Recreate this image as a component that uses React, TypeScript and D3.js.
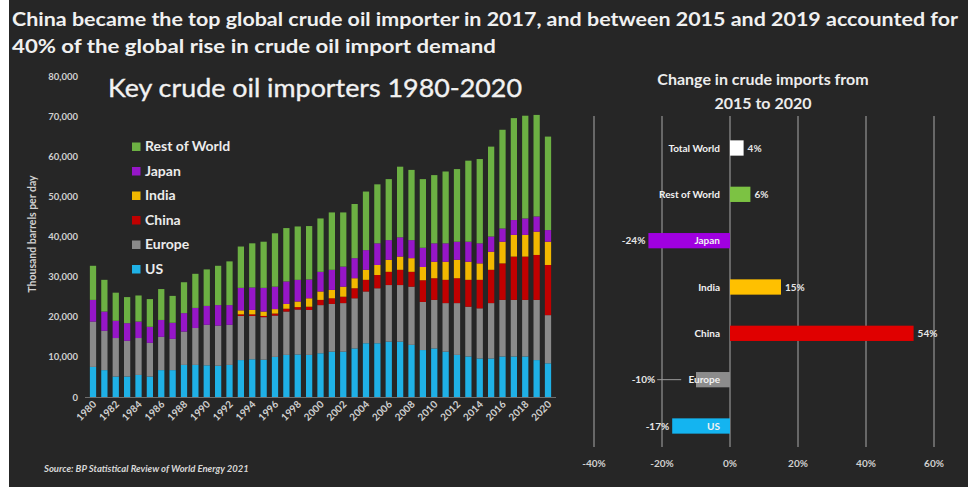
import React from 'react';
import * as d3 from 'd3';

const years = ["1980","1981","1982","1983","1984","1985","1986","1987","1988","1989","1990","1991","1992","1993","1994","1995","1996","1997","1998","1999","2000","2001","2002","2003","2004","2005","2006","2007","2008","2009","2010","2011","2012","2013","2014","2015","2016","2017","2018","2019","2020"];

const usImports = [7500,6700,5100,5100,5500,5100,6700,6700,8000,8000,7900,7800,8000,9200,9400,9300,10000,10500,10600,10500,10900,11300,11300,12100,13400,13400,13800,13800,13000,11700,12100,11300,10500,10100,9600,9600,10100,10100,10100,9200,8400];
const europeImports = [11300,9800,9600,8900,9200,8400,8300,7800,8300,9200,10100,10000,10000,11000,10800,10600,10300,10800,11200,11200,12000,11900,12100,12500,12900,13700,14100,14100,14500,12000,12100,12100,12900,12400,12500,13800,14100,14100,14100,15000,12000];
const chinaImports = [0,0,0,0,0,0,0,0,0,0,0,0,0,400,400,300,500,700,600,800,1300,1400,1600,2500,2900,3300,3300,3800,3700,5400,5400,5800,6200,6700,7100,8300,9100,10800,10800,11200,12500];
const indiaImports = [0,0,0,0,0,0,0,0,0,0,0,0,0,1000,1100,1100,1100,1200,1400,2100,2100,2100,2500,2500,2500,2500,3000,3300,3400,3300,4100,4500,4600,4500,4100,4500,5400,5400,5400,5800,5800];
const japanImports = [5400,4800,4300,4400,4100,4000,4200,4000,4600,5000,4700,5100,4900,5600,5600,5900,5600,5600,5400,4700,4900,5000,5000,5000,4900,5400,4900,4800,4500,4800,4600,4600,4500,5000,5000,3800,3300,3700,4100,3800,2900];
const restOfWorldImports = [8500,7900,7000,6500,6500,6900,7700,6700,7700,8500,9100,9800,10900,10300,11000,11500,13300,13300,13300,13300,13300,14300,13500,13500,14600,14700,15200,17600,17500,17100,17000,17900,18100,20200,21000,22400,24600,25400,25600,25300,23300];

const seriesNames = ["US","Europe","China","India","Japan","Rest of World"];
const seriesColors = ["#1fb1e6","#8a8a8a","#c00000","#f2b800","#9616c8","#6cb043"];
const yTicks = [0,10000,20000,30000,40000,50000,60000,70000,80000];
const xTickYears = ["1980","1982","1984","1986","1988","1990","1992","1994","1996","1998","2000","2002","2004","2006","2008","2010","2012","2014","2016","2018","2020"];

const changeCategories = ["Total World","Rest of World","Japan","India","China","Europe","US"];
const changeValues = [4,6,-24,15,54,-10,-17];
const changeColors = ["#ffffff","#7cc243","#a000e0","#ffc000","#e00000","#8c8c8c","#14b4f0"];
const changeTicks = [-40,-20,0,20,40,60];

const FONT = "Lato, 'Open Sans', sans-serif";
const BG = "#262626";

export default function App() {
  const seriesArrays = [usImports, europeImports, chinaImports, indiaImports, japanImports, restOfWorldImports];
  const rows = years.map((y, i) => {
    const r: any = { year: y };
    seriesNames.forEach((s, k) => { r[s] = seriesArrays[k][i]; });
    return r;
  });
  const stacked = d3.stack().keys(seriesNames)(rows);

  const step = (548 - 93) / (years.length - 1);
  const x = d3.scaleBand().domain(years).range([93 - step / 2, 548 + step / 2]).paddingInner(0.45).paddingOuter(0.225);
  const y = d3.scaleLinear().domain([0, 80000]).range([397, 76]);
  const fmt = d3.format(",");

  const rStep = (426 - 148) / (changeCategories.length - 1);
  const ry = d3.scaleBand().domain(changeCategories).range([148 - rStep / 2, 426 + rStep / 2]).paddingInner(0.67).paddingOuter(0.335);
  const rx = d3.scaleLinear().domain([-40, 60]).range([594, 934]);

  const legendOrder = [5, 4, 3, 2, 1, 0];

  return (
    <svg width={968} height={490} style={{ position: 'absolute', left: 0, top: 0 }} fontFamily={FONT}>
      <rect x={0} y={0} width={968} height={490} fill="#ffffff" />
      <rect x={9} y={0} width={959} height={487} fill={BG} />

      <text x={12} y={26} fill="#f0f0f0" fontSize={19.5} fontWeight={700} textLength={946} lengthAdjust="spacingAndGlyphs">China became the top global crude oil importer in 2017, and between 2015 and 2019 accounted for</text>
      <text x={12} y={53} fill="#f0f0f0" fontSize={19.5} fontWeight={700} textLength={484} lengthAdjust="spacingAndGlyphs">40% of the global rise in crude oil import demand</text>

      <text x={108} y={97} fill="#f2f2f2" fontSize={25.5} textLength={414} lengthAdjust="spacingAndGlyphs" stroke="#f2f2f2" strokeWidth={0.35}>Key crude oil importers 1980-2020</text>

      {/* y axis */}
      {yTicks.map(t => (
        <text key={t} x={78} y={y(t) + 3.5} fill="#d0d0d0" fontSize={9.5} fontWeight={700} textAnchor="end">{fmt(t)}</text>
      ))}
      <text transform={`translate(36,234) rotate(-90)`} fill="#d0d0d0" fontSize={10.5} fontWeight={700} textAnchor="middle">Thousand barrels per day</text>

      {/* bars */}
      {stacked.map((layer, k) => (
        <g key={layer.key} fill={seriesColors[k]}>
          {layer.map((d: any, i: number) => (
            d[1] > d[0] ? <rect key={i} x={x(years[i])!} y={y(d[1])} width={x.bandwidth()} height={y(d[0]) - y(d[1])} /> : null
          ))}
        </g>
      ))}
      <line x1={85} x2={556} y1={397.5} y2={397.5} stroke="#6e6e6e" strokeWidth={1} />
      {xTickYears.map(t => {
        const cx = x(t)! + x.bandwidth() / 2;
        return (
          <text key={t} transform={`translate(${cx + 4},${405}) rotate(-45)`} fill="#d0d0d0" fontSize={10} fontWeight={700} textAnchor="end">{t}</text>
        );
      })}

      {/* legend */}
      {legendOrder.map((k, i) => (
        <g key={seriesNames[k]} transform={`translate(132,${151 + i * 24.5})`}>
          <rect x={0} y={-8.5} width={8.5} height={8.5} fill={seriesColors[k]} />
          <text x={13} y={0} fill="#ececec" fontSize={14} fontWeight={700}>{seriesNames[k]}</text>
        </g>
      ))}

      <text x={44} y={472} fill="#d8d8d8" fontSize={9.5} fontWeight={700} fontStyle="italic">Source: BP Statistical Review of World Energy 2021</text>

      {/* right chart */}
      <text x={763} y={85} fill="#ececec" fontSize={16} fontWeight={700} textAnchor="middle">Change in crude imports from</text>
      <text x={763} y={109} fill="#ececec" fontSize={16} fontWeight={700} textAnchor="middle">2015 to 2020</text>
      {changeTicks.map(t => (
        <g key={t}>
          <line x1={rx(t)} x2={rx(t)} y1={116} y2={447} stroke="#a8a8a8" strokeWidth={1} />
          <text x={rx(t)} y={467} fill="#d0d0d0" fontSize={10} fontWeight={700} textAnchor="middle">{t}%</text>
        </g>
      ))}
      {changeCategories.map((c, i) => {
        const v = changeValues[i];
        const top = ry(c)!;
        const h = ry.bandwidth();
        const cy = top + h / 2;
        const x0 = rx(0), x1 = rx(v);
        const labelRight = x0 - 10;
        const labelStart = labelRight - c.length * 5.8;
        let valueLabel;
        if (v >= 0) {
          valueLabel = <text x={x1 + 4} y={cy + 3.5} fill="#e6e6e6" fontSize={10} fontWeight={700}>{v}%</text>;
        } else {
          const natural = x1 - 3;
          const moved = labelStart - 30;
          const lx = Math.min(natural, moved);
          valueLabel = (
            <g>
              {moved < natural ? <line x1={lx + 2} x2={labelStart - 4} y1={cy} y2={cy} stroke="#9a9a9a" strokeWidth={1} /> : null}
              <text x={lx} y={cy + 3.5} fill="#e6e6e6" fontSize={10} fontWeight={700} textAnchor="end">{v}%</text>
            </g>
          );
        }
        return (
          <g key={c}>
            <rect x={Math.min(x0, x1)} y={top} width={Math.abs(x1 - x0)} height={h} fill={changeColors[i]} />
            <text x={labelRight} y={cy + 3.5} fill="#f2f2f2" fontSize={10} fontWeight={700} textAnchor="end">{c}</text>
            {valueLabel}
          </g>
        );
      })}
    </svg>
  );
}
